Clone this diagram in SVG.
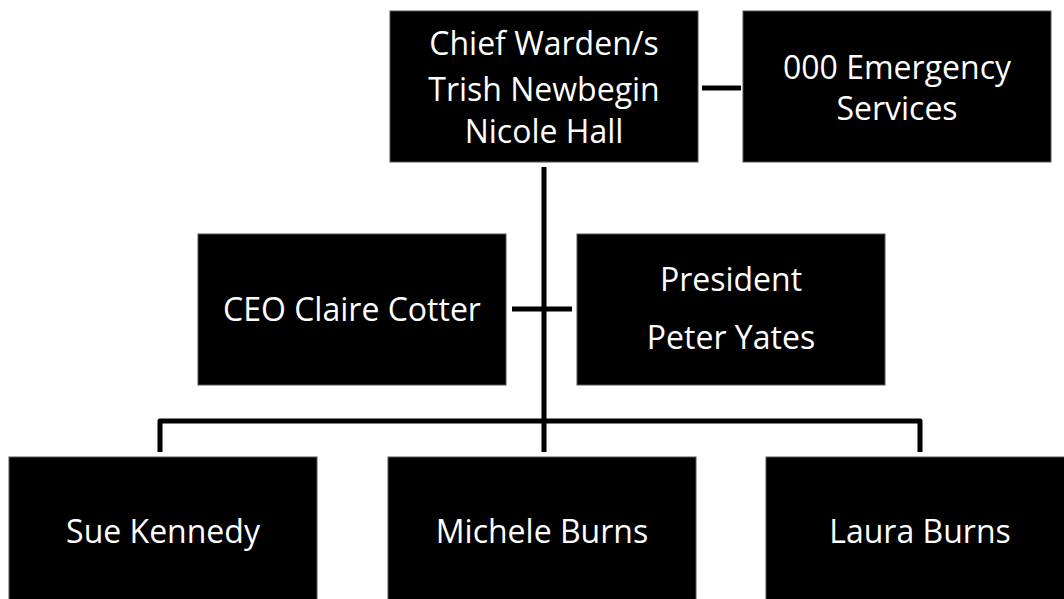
<svg xmlns="http://www.w3.org/2000/svg" width="1064" height="599" viewBox="0 0 1064 599">
<style>
.box{fill:#000;stroke:#555;stroke-width:1}
.t{fill:#fff;font-family:"Open Sans","Liberation Sans",sans-serif;font-size:32px;text-anchor:middle}
.c{fill:none;stroke:#000;stroke-width:5;stroke-linejoin:round}
</style>
<rect width="1064" height="599" fill="#fff"/>
<g id="connectors">
<line class="c" x1="702" y1="88" x2="741" y2="88"/>
<line class="c" x1="544" y1="167" x2="544" y2="452"/>
<line class="c" x1="512" y1="309" x2="572" y2="309"/>
<path class="c" d="M160 452 V421 H920 V452"/>
</g>
<g id="chief">
<rect class="box" x="390" y="11" width="308" height="151"/>
<text class="t" x="544" y="55">Chief Warden/s</text>
<text class="t" x="544" y="101">Trish Newbegin</text>
<text class="t" x="544" y="143">Nicole Hall</text>
</g>
<g id="emergency">
<rect class="box" x="743" y="11" width="308" height="151"/>
<text class="t" x="897" y="79">000 Emergency</text>
<text class="t" x="897" y="120">Services</text>
</g>
<g id="ceo">
<rect class="box" x="198" y="234" width="308" height="151"/>
<text class="t" x="352" y="321">CEO Claire Cotter</text>
</g>
<g id="president">
<rect class="box" x="577" y="234" width="308" height="151"/>
<text class="t" x="731" y="291">President</text>
<text class="t" x="731" y="349">Peter Yates</text>
</g>
<g id="sue">
<rect class="box" x="9" y="457" width="308" height="151"/>
<text class="t" x="163" y="543">Sue Kennedy</text>
</g>
<g id="michele">
<rect class="box" x="388" y="457" width="308" height="151"/>
<text class="t" x="542" y="543">Michele Burns</text>
</g>
<g id="laura">
<rect class="box" x="766" y="457" width="308" height="151"/>
<text class="t" x="920" y="543">Laura Burns</text>
</g>
</svg>
